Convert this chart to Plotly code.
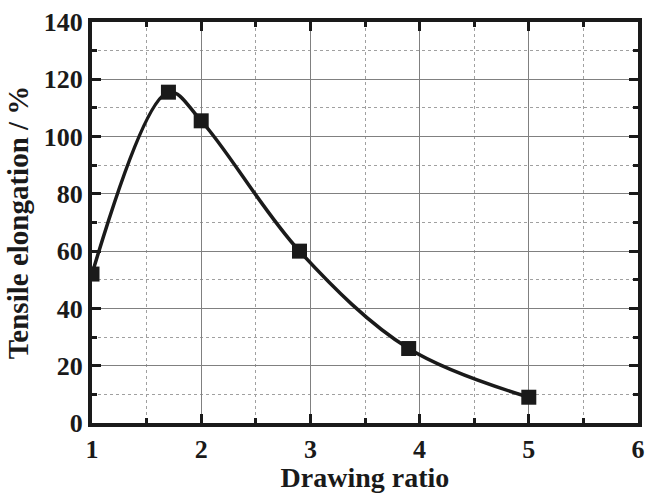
import plotly.graph_objects as go

drawing_ratio = [1.0, 1.7, 2.0, 2.9, 3.9, 5.0]
elongation = [52, 115.5, 105.5, 60, 26, 9]

x_ticks = [1, 2, 3, 4, 5, 6]
x_minor = [1.5, 2.5, 3.5, 4.5, 5.5]
y_ticks = [0, 20, 40, 60, 80, 100, 120, 140]
y_minor = [10, 30, 50, 70, 90, 110, 130]

font_family = "Liberation Serif, Times New Roman, Times, serif"

fig = go.Figure()
fig.add_trace(go.Scatter(
    x=drawing_ratio, y=elongation,
    mode="lines",
    line=dict(color="#1a1a1a", width=3.5, shape="spline", smoothing=1.0),
    showlegend=False, hoverinfo="skip",
))
fig.add_trace(go.Scatter(
    x=drawing_ratio, y=elongation,
    mode="markers",
    marker=dict(symbol="square", size=15, color="#1a1a1a"),
    showlegend=False,
))

axis_common = dict(
    showline=True, linecolor="#1a1a1a", linewidth=4, mirror="allticks",
    ticks="inside", ticklen=9, tickwidth=3, tickcolor="#1a1a1a",
    showgrid=True, gridcolor="#808080", gridwidth=1,
    zeroline=False, automargin=False,
    tickfont=dict(family=font_family, size=26, color="#1a1a1a"),
)

fig.update_xaxes(
    range=[1, 6], tickvals=x_ticks, ticktext=["<b>%d</b>" % v for v in x_ticks],
    title=dict(text="<b>Drawing ratio</b>", font=dict(family=font_family, size=28, color="#1a1a1a"), standoff=7),
    minor=dict(tickvals=x_minor, ticks="inside", ticklen=5, tickwidth=3, tickcolor="#1a1a1a",
               showgrid=True, gridcolor="#a0a0a0", gridwidth=1, griddash="dot"),
    **axis_common,
)
fig.update_yaxes(
    range=[0, 140], tickvals=y_ticks, ticktext=["<b>%d</b>" % v for v in y_ticks],
    title=dict(text="<b>Tensile elongation / %</b>", font=dict(family=font_family, size=29, color="#1a1a1a"), standoff=8),
    minor=dict(tickvals=y_minor, ticks="inside", ticklen=5, tickwidth=3, tickcolor="#1a1a1a",
               showgrid=True, gridcolor="#a0a0a0", gridwidth=1, griddash="dot"),
    **axis_common,
)

fig.update_layout(
    width=648, height=493,
    margin=dict(l=92, r=10, t=22, b=70),
    plot_bgcolor="white", paper_bgcolor="white",
)

fig.write_html("out.html")
